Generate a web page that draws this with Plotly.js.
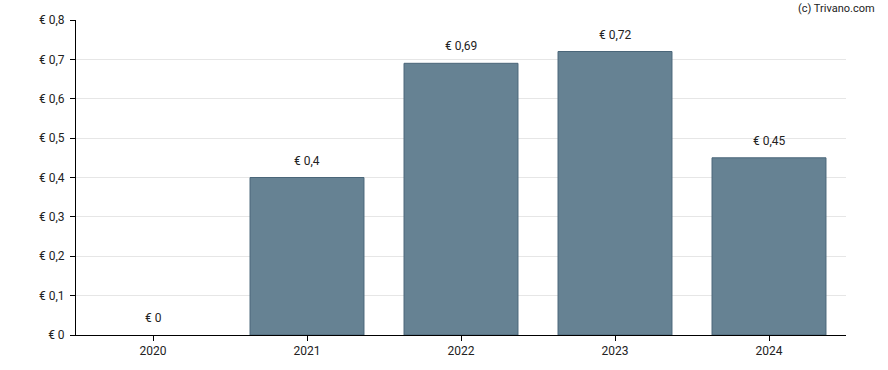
<!DOCTYPE html>
<html>
<head>
<meta charset="utf-8">
<script src="https://cdn.plot.ly/plotly-3.0.1.min.js"></script>
<style>html,body{margin:0;padding:0;background:#fff;}#chart{width:888px;height:370px;}</style>
</head>
<body>
<div id="chart"></div>
<script>
const years = ['2020', '2021', '2022', '2023', '2024'];
const dividends = [0, 0.4, 0.69, 0.72, 0.45];
const yTickVals = [0, 0.1, 0.2, 0.3, 0.4, 0.5, 0.6, 0.7, 0.8];

function fmt(v) { return '€ ' + String(v).replace('.', ','); }

const trace = {
  type: 'bar',
  x: years,
  y: dividends,
  marker: {
    color: 'rgba(102,130,147,1)',
    line: { color: '#4a6679', width: dividends.map(v => (v > 0 ? 1 : 0)) }
  },
  hoverinfo: 'none'
};

const annotations = years.map((yr, i) => ({
  x: i, y: dividends[i], xref: 'x', yref: 'y',
  text: fmt(dividends[i]), showarrow: false, yshift: 17,
  font: { family: 'Roboto, sans-serif', size: 12, color: '#222' }
}));
annotations.push({
  xref: 'paper', yref: 'paper', x: 1.04, y: 1.038, xanchor: 'right', yanchor: 'middle',
  text: '(c) Trivano.com', showarrow: false,
  font: { family: 'Roboto, sans-serif', size: 11, color: '#222' }
});

const layout = {
  width: 888, height: 370,
  margin: { l: 76, r: 42, t: 20, b: 35 },
  paper_bgcolor: '#fff', plot_bgcolor: '#fff',
  separators: ',.',
  font: { family: 'Roboto, sans-serif', size: 12, color: '#222' },
  bargap: 0.26,
  showlegend: false,
  xaxis: {
    type: 'category', categoryorder: 'array', categoryarray: years,
    showline: true, linecolor: '#000', linewidth: 1,
    ticks: 'outside', ticklen: 5, tickcolor: '#000', showgrid: false,
    tickfont: { size: 12 }
  },
  yaxis: {
    range: [0, 0.8], tickvals: yTickVals, ticktext: yTickVals.map(fmt),
    showline: true, linecolor: '#000', linewidth: 1,
    ticks: 'outside', ticklen: 5, tickcolor: '#000', ticklabelstandoff: 3,
    gridcolor: '#e6e6e6', zeroline: false, tickfont: { size: 12 }
  },
  annotations: annotations
};

Plotly.newPlot('chart', [trace], layout, { staticPlot: true, displayModeBar: false });
</script>
</body>
</html>
